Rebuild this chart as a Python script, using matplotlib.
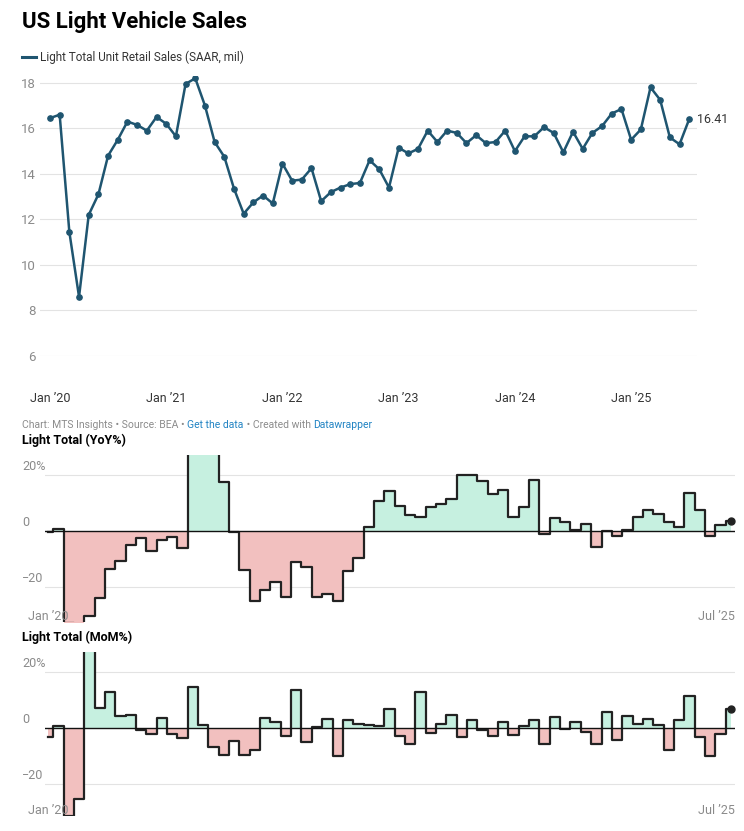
import matplotlib
matplotlib.use("Agg")
import matplotlib.pyplot as plt
import numpy as np

plt.rcParams["font.family"] = "Roboto"

# monthly, Jan 2020 .. Jul 2025
sales = [16.45, 16.6, 11.45, 8.6, 12.2, 13.1, 14.8, 15.5, 16.3, 16.15, 15.9, 16.5,
         16.2, 15.65, 17.95, 18.2, 17.0, 15.4, 14.75, 13.35, 12.25, 12.75, 13.05, 12.7,
         14.45, 13.7, 13.75, 14.25, 12.8, 13.2, 13.4, 13.55, 13.6, 14.6, 14.2, 13.4,
         15.15, 14.9, 15.1, 15.9, 15.4, 15.9, 15.8, 15.35, 15.7, 15.35, 15.4, 15.9,
         15.0, 15.65, 15.65, 16.05, 15.8, 14.95, 15.85, 15.1, 15.8, 16.1, 16.65, 16.85,
         15.5, 15.95, 17.8, 17.25, 15.6, 15.3, 16.41]
yoy = [-0.3, 0.8, -33, -47, -30.2, -23.9, -13.7, -10.8, -5.1, -2.6, -7.3, -3.4,
       -2.2, -6.2, 57, 111, 39, 17.4, -0.5, -14.1, -25, -21, -18.3, -23.6,
       -11, -12.8, -23.7, -22.4, -24.9, -14.4, -9.6, 1.3, 10.8, 14.1, 9.0, 5.7,
       4.8, 8.7, 9.7, 11.5, 19.8, 20.1, 17.7, 13.2, 14.7, 4.8, 8.4, 18.3,
       -1.0, 4.7, 3.1, 0.5, 2.5, -5.9, 0.1, -1.7, 0.5, 4.8, 7.4, 5.9,
       3.1, 1.4, 13.4, 7.4, -1.7, 2.2, 3.6]
mom = [-3.3, 0.8, -31.3, -25.2, 42, 7.1, 13.0, 4.4, 4.8, -0.6, -2.0, 3.7,
       -2.0, -3.6, 14.5, 1.2, -6.8, -9.5, -4.5, -9.8, -8.0, 3.7, 2.0, -2.7,
       13.7, -5.1, 0.2, 3.1, -10.1, 2.7, 1.4, 1.1, 0.6, 6.9, -3.0, -5.6,
       12.7, -1.9, 1.4, 4.8, -3.3, 3.0, -0.6, -3.0, 2.0, -2.4, 0.6, 2.9,
       -5.7, 4.0, -0.2, 2.1, -1.5, -5.6, 5.6, -4.4, 4.2, 1.5, 3.2, 1.2,
       -8.0, 2.7, 11.5, -3.2, -9.9, -2.0, 6.9]
year_ticks = ["Jan \u201920", "Jan \u201921", "Jan \u201922", "Jan \u201923", "Jan \u201924", "Jan \u201925"]

W, H = 744, 831
GREY = "#8a8a8a"
LINE = "#1f5570"


def box(l, t, r, b):
    return [l / W, 1 - b / H, (r - l) / W, (b - t) / H]


fig = plt.figure(figsize=(W / 100, H / 100), dpi=100)
x = np.arange(len(sales))

# ---- top line chart
ax = fig.add_axes(box(40, 76, 697, 356))
ax.plot(x, sales, color=LINE, lw=1.8, marker="o", ms=3.8)
ax.set_xlim(-1.03, 66.8)
ax.set_ylim(6, 18.3)
ax.set_yticks([6, 8, 10, 12, 14, 16, 18])
ax.grid(axis="y", color="#e3e3e3", lw=0.8)
ax.set_xticks(np.arange(0, 61, 12))
ax.set_xticklabels(year_ticks)
ax.tick_params(length=0, colors="#333", labelsize=9)
ax.tick_params(axis="y", colors=GREY, labelsize=9.5, pad=3)
ax.tick_params(axis="x", pad=26)
for s in ax.spines.values():
    s.set_visible(False)
ax.text(x[-1] + 0.8, sales[-1], f"{sales[-1]:.2f}", fontsize=9, color="#333", va="center")

fig.text(22 / W, 1 - 22 / H, "US Light Vehicle Sales", fontsize=16, fontweight="bold", va="center")
fig.add_artist(plt.Line2D([22 / W, 36 / W], [1 - 57 / H] * 2, color=LINE, lw=2.2))
fig.text(40 / W, 1 - 57 / H, "Light Total Unit Retail Sales (SAAR, mil)", fontsize=8.5, color="#333", va="center")

# footer
parts = [("Chart: MTS Insights \u2022 Source: BEA \u2022 ", GREY), ("Get the data", "#1d81c2"),
         (" \u2022 Created with ", GREY), ("Datawrapper", "#1d81c2")]
fig.canvas.draw()
r = fig.canvas.get_renderer()
xp = 22
for txt, c in parts:
    t = fig.text(xp / W, 1 - 425 / H, txt, fontsize=7.5, color=c, va="center")
    xp += t.get_window_extent(r).width


def step_panel(top, bottom, vals, ylim, title):
    a = fig.add_axes(box(45, top, 735, bottom))
    v = np.array(vals)
    a.fill_between(x, 0, np.clip(v, 0, None), step="mid", color="#c6f0e0", lw=0)
    a.fill_between(x, 0, np.clip(v, None, 0), step="mid", color="#f2c0bf", lw=0)
    a.plot(x, v, drawstyle="steps-mid", color="#222", lw=1.6)
    a.plot(x[-1], v[-1], "o", color="#222", ms=5)
    a.axhline(0, color="#111", lw=1)
    for g in (20, -20):
        a.axhline(g, color="#e3e3e3", lw=0.8, zorder=0)
    a.set_xlim(-0.29, 66.4)
    a.set_ylim(*ylim)
    a.axis("off")
    y0 = 1 - top / H
    fig.text(22 / W, y0 + 8 / H, title, fontsize=9, fontweight="bold", va="bottom")
    for g, lab in ((20, "20%"), (0, "0"), (-20, "\u221220")):
        yy = a.transData.transform((0, g))[1] / H
        fig.text(22 / W, yy + 2 / H, lab, fontsize=9, color=GREY, va="bottom")
    yb = 1 - (bottom - 6) / H
    fig.text(28 / W, yb, "Jan \u201920", fontsize=9, color=GREY, va="center")
    fig.text(735 / W, yb, "Jul \u201925", fontsize=9, color=GREY, va="center", ha="right")


step_panel(455, 622, yoy, (-32.5, 27.1), "Light Total (YoY%)")
step_panel(652, 816, mom, (-31.4, 27.1), "Light Total (MoM%)")

fig.savefig("out.png", dpi=100)
